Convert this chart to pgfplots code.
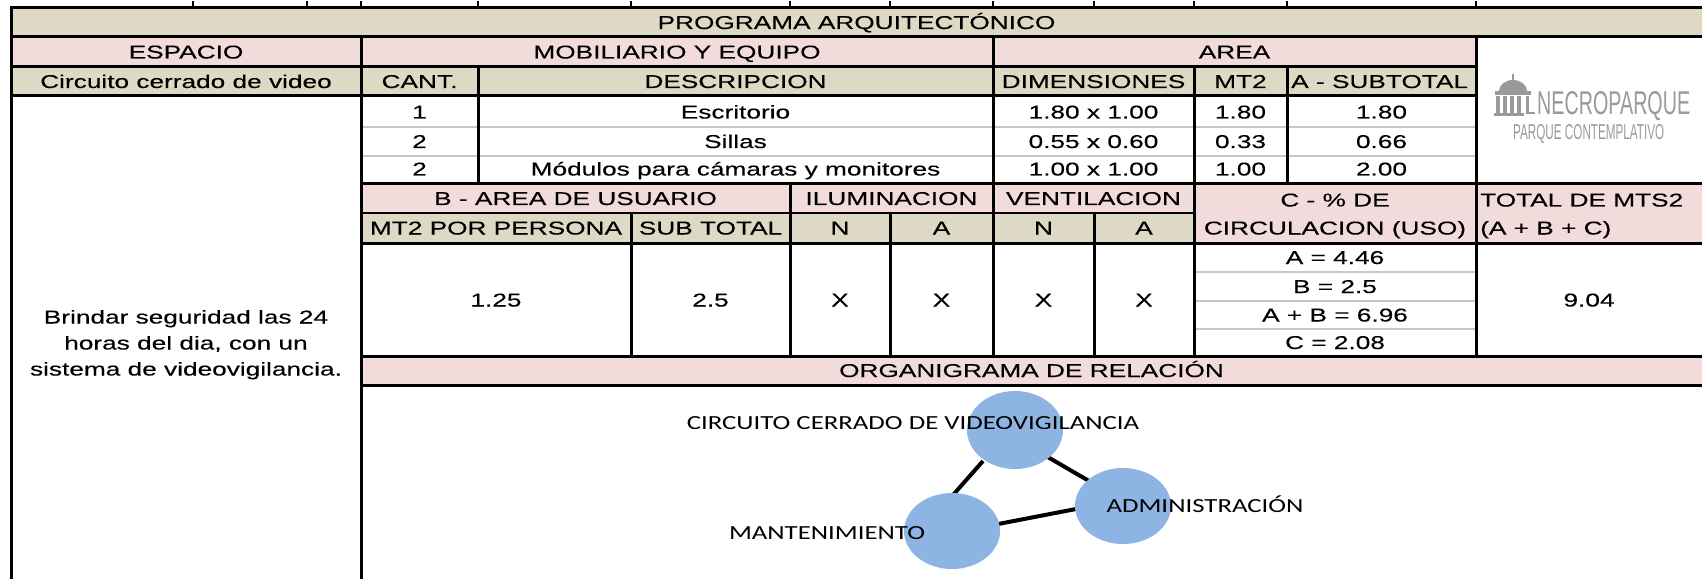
\documentclass[border=0pt]{standalone}
\usepackage{pgfplots}
\pgfplotsset{compat=1.18}
\usepackage{fontspec}
\setmainfont{Liberation Sans}
\newfontfamily\tf[FakeStretch=1.41,FakeBold=0.2]{Liberation Sans}
\newfontfamily\of[FakeStretch=1.34]{Carlito}
\definecolor{beige}{HTML}{DDD9C4}
\definecolor{pinkc}{HTML}{F2DCDB}
\definecolor{bluec}{HTML}{8DB4E2}
\definecolor{grayl}{HTML}{C8C8C8}
\definecolor{logog}{HTML}{9A9A9A}
\newcommand\T{\tf\fontsize{18.6bp}{26bp}\selectfont}
\newcommand\Of{\of\fontsize{20bp}{24bp}\selectfont}
\newcommand\cell[5]{\fill[#5] (axis cs:#1,#2) rectangle (axis cs:#3,#4);}
\newcommand\hl[4][3bp]{\draw[line width=#1,line cap=rect] (axis cs:#2,#4) -- (axis cs:#3,#4);}
\newcommand\vl[4][3bp]{\draw[line width=#1,line cap=rect] (axis cs:#2,#3) -- (axis cs:#2,#4);}
\newcommand\gl[3]{\draw[line width=1.6bp,grayl] (axis cs:#1,#3) -- (axis cs:#2,#3);}
\newcommand\tx[3]{\node[anchor=base,font=\T,inner sep=0pt] at (axis cs:#1,#2) {#3};}
\newcommand\txw[3]{\node[anchor=base west,font=\T,inner sep=0pt] at (axis cs:#1,#2) {#3};}
\begin{document}
\begin{tikzpicture}
\begin{axis}[scale only axis, width=1702bp, height=579bp,
  xmin=0, xmax=1702, ymin=0, ymax=579, y dir=reverse,
  hide axis, clip=false]
% ---- fills
\cell{11}{8}{1702}{37}{beige}
\cell{11}{37}{1476}{67}{pinkc}
\cell{11}{67}{1476}{96}{beige}
\cell{361}{184}{1194}{213}{pinkc}
\cell{1194}{184}{1702}{243}{pinkc}
\cell{361}{213}{1194}{243}{beige}
\cell{361}{356}{1702}{385}{pinkc}
% ---- gray lines
\gl{361}{1476}{127}
\gl{361}{1476}{156}
\gl{1194}{1476}{272}
\gl{1194}{1476}{301}
\gl{1194}{1476}{329}
% ---- top stubs
\pgfplotsinvokeforeach{193,307,361,478,631,790,890,993,1094,1194,1287,1476}{
  \draw[line width=1.5bp] (axis cs:#1,1) -- (axis cs:#1,8);
}
% ---- black lines
\hl{11}{1702}{8}
\hl{11}{1702}{37}
\hl{11}{1476}{67}
\hl{11}{1476}{96}
\hl{361}{1702}{184}
\hl[2bp]{361}{1194}{213}
\hl{361}{1702}{243}
\hl{361}{1702}{356}
\hl{361}{1702}{385}
\vl{11}{8}{579}
\vl{361}{37}{579}
\vl{478}{67}{184}
\vl{631}{213}{356}
\vl{790}{184}{356}
\vl{890}{213}{356}
\vl{993}{37}{356}
\vl{1094}{213}{356}
\vl{1194}{67}{356}
\vl{1287}{67}{184}
\vl{1476}{37}{356}
% ---- texts
\tx{856.5}{29}{PROGRAMA ARQUITECTÓNICO}
\tx{186}{58.5}{ESPACIO}
\tx{677}{58.5}{MOBILIARIO Y EQUIPO}
\tx{1234.5}{58.5}{AREA}
\tx{186}{88}{Circuito cerrado de video}
\tx{419.5}{88}{CANT.}
\tx{735.5}{88}{DESCRIPCION}
\tx{1093.5}{88}{DIMENSIONES}
\tx{1240.5}{88}{MT2}
\txw{1291}{88}{A - SUBTOTAL}
\tx{419.5}{118.5}{1}
\tx{419.5}{148}{2}
\tx{419.5}{175.5}{2}
\tx{735.5}{118.5}{Escritorio}
\tx{735.5}{148}{Sillas}
\tx{735.5}{175.5}{Módulos para cámaras y monitores}
\tx{1093.5}{118.5}{1.80 x 1.00}
\tx{1093.5}{148}{0.55 x 0.60}
\tx{1093.5}{175.5}{1.00 x 1.00}
\tx{1240.5}{118.5}{1.80}
\tx{1240.5}{148}{0.33}
\tx{1240.5}{175.5}{1.00}
\tx{1381.5}{118.5}{1.80}
\tx{1381.5}{148}{0.66}
\tx{1381.5}{175.5}{2.00}
\tx{575.5}{205}{B - AREA DE USUARIO}
\tx{891.5}{205}{ILUMINACION}
\tx{1093.5}{205}{VENTILACION}
\tx{1335}{206.5}{C - \% DE}
\txw{1480}{206.5}{TOTAL DE MTS2}
\tx{496}{234.5}{MT2 POR PERSONA}
\tx{710.5}{234.5}{SUB TOTAL}
\tx{840}{234.5}{N}
\tx{941.5}{234.5}{A}
\tx{1043.5}{234.5}{N}
\tx{1144}{234.5}{A}
\tx{1335}{234.5}{CIRCULACION (USO)}
\txw{1480}{234.5}{(A + B + C)}
\tx{496}{306.5}{1.25}
\tx{710.5}{306.5}{2.5}
\tx{840}{306.5}{X}
\tx{941.5}{306.5}{X}
\tx{1043.5}{306.5}{X}
\tx{1144}{306.5}{X}
\tx{1589}{306.5}{9.04}
\tx{1335}{264}{A = 4.46}
\tx{1335}{293}{B = 2.5}
\tx{1335}{321.5}{A + B = 6.96}
\tx{1335}{349}{C = 2.08}
\tx{1031.5}{377}{ORGANIGRAMA DE RELACIÓN}
\tx{186}{323.5}{Brindar seguridad las 24}
\tx{186}{349.5}{horas del dia, con un}
\tx{186}{375.5}{sistema de videovigilancia.}
% ---- logo
\fill[logog] (axis cs:1512,74) rectangle (axis cs:1514,80);
\fill[logog] (axis cs:1499,91) arc[start angle=180,end angle=0,x radius=14bp,y radius=11bp] -- cycle;
\fill[logog] (axis cs:1495,91) rectangle (axis cs:1531,95);
\pgfplotsinvokeforeach{1496,1503,1510,1517}{
  \fill[logog] (axis cs:#1,96) rectangle (axis cs:#1+4,113);
}
\fill[logog] (axis cs:1526,96) rectangle (axis cs:1529,113);
\fill[logog] (axis cs:1526,112) rectangle (axis cs:1535,114);
\fill[logog] (axis cs:1494,113) rectangle (axis cs:1524,116);
\node[anchor=base west,inner sep=0pt,text=logog] at (axis cs:1537,115) {\resizebox{153bp}{23bp}{\fontsize{20bp}{24bp}\selectfont NECROPARQUE}};
\node[anchor=base west,inner sep=0pt,text=logog] at (axis cs:1513,140) {\resizebox{151bp}{15bp}{\fontsize{20bp}{24bp}\selectfont PARQUE CONTEMPLATIVO}};
% ---- organigram
\addplot[black, line width=4bp] coordinates {(983,461) (953,495)};
\addplot[black, line width=4bp] coordinates {(1046,456) (1089,481)};
\addplot[black, line width=4bp] coordinates {(993,525) (1076,509)};
\fill[bluec] (axis cs:1015,430) ellipse [x radius=48bp, y radius=39bp];
\fill[bluec] (axis cs:952,531) ellipse [x radius=48bp, y radius=38bp];
\fill[bluec] (axis cs:1123,506) ellipse [x radius=48bp, y radius=38bp];
\node[anchor=base,font=\Of,inner sep=0pt] at (axis cs:913,429.5) {CIRCUITO CERRADO DE VIDEOVIGILANCIA};
\node[anchor=base,font=\Of,inner sep=0pt] at (axis cs:1205,512.5) {ADMINISTRACIÓN};
\node[anchor=base,font=\Of,inner sep=0pt] at (axis cs:827,539.5) {MANTENIMIENTO};
\coordinate (sw) at (axis cs:0,579);
\coordinate (ne) at (axis cs:1702,0);
\end{axis}
\pgfresetboundingbox
\path (sw) rectangle (ne);
\end{tikzpicture}
\end{document}
